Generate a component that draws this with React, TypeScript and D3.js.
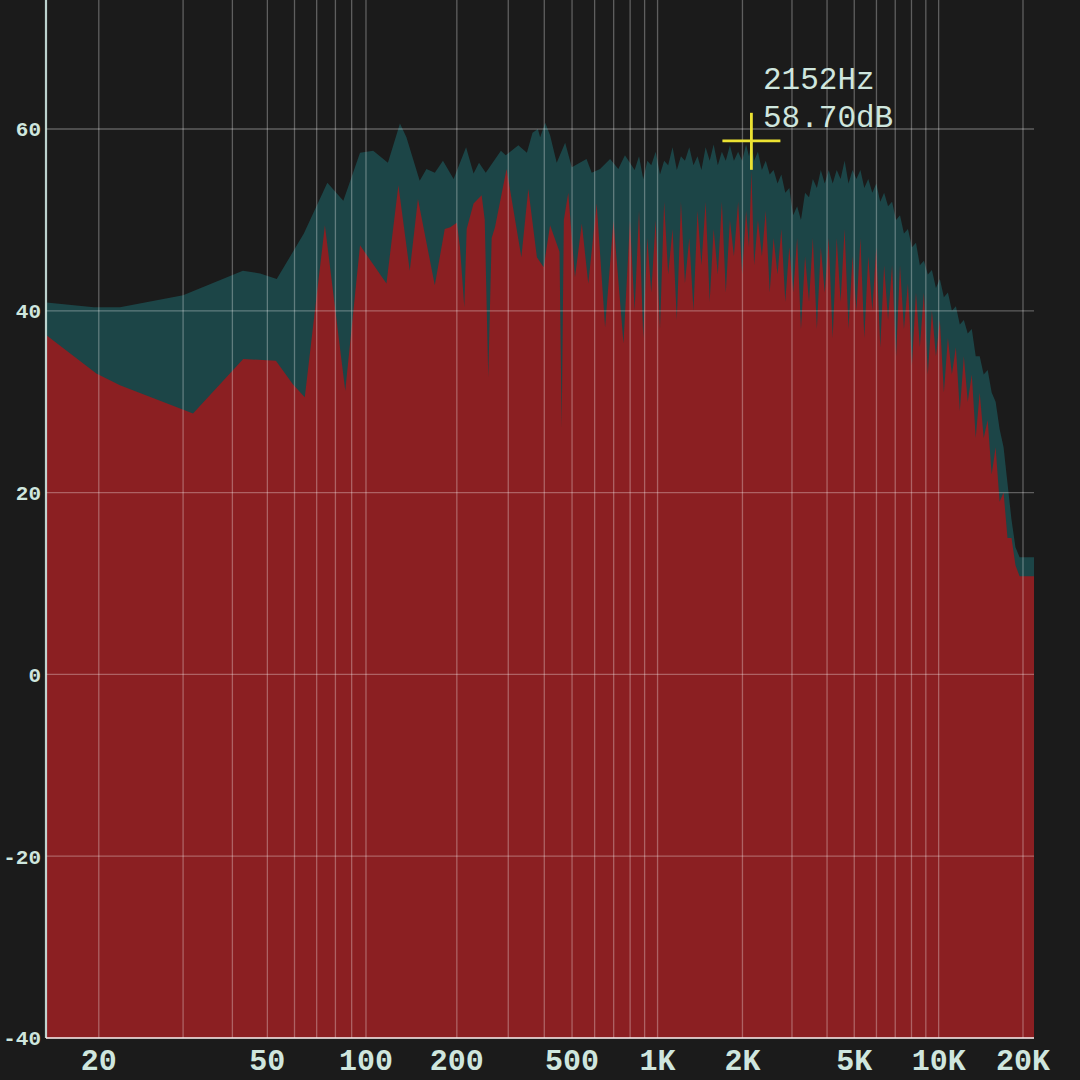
import React from "react";
import * as d3 from "d3";

// peak hold curve (teal) - frequency in Hz, level in dB
const peakHz = [
  16.5, 19.6, 21.9, 30, 42.7, 47.7, 53.2, 64, 75.5, 84.7, 95.7, 105.5, 117.8, 129, 135.5, 150, 158, 168.5, 179.5, 195,
  215, 228, 238, 251, 283, 294, 325, 348, 364, 380, 387, 403, 419, 442, 473, 499, 562, 586, 627, 680, 727, 767,
  830, 860, 890, 920, 950, 985, 1020, 1055, 1090, 1130, 1170, 1210, 1250, 1295, 1340, 1385, 1430, 1480, 1530, 1580,
  1635, 1690, 1745, 1805, 1865, 1930, 1995, 2060, 2110, 2152, 2200, 2270, 2345, 2420, 2500, 2580, 2665, 2750, 2840,
  2935, 3030, 3130, 3230, 3340, 3450, 3560, 3680, 3800, 3925, 4055, 4190, 4330, 4470, 4620, 4770, 4930, 5090, 5260,
  5430, 5610, 5800, 5990, 6190, 6390, 6600, 6820, 7050, 7280, 7520, 7770, 8030, 8300, 8570, 8860, 9150, 9460, 9780,
  10100, 10440, 10790, 11150, 11520, 11900, 12300, 12700, 13130, 13560, 14010, 14480, 14960, 15460, 15970, 16500,
  17050, 17610, 18200, 18800, 19450, 21900,
];
const peakDb = [
  40.9, 40.4, 40.4, 41.7, 44.4, 44.1, 43.5, 48.5, 54.1, 52.1, 57.4, 57.6, 56.3, 60.6, 59.1, 54.3, 55.6, 55.2, 56.5, 54.5,
  58.0, 55.1, 56.3, 55.2, 57.6, 57.1, 58.2, 57.4, 59.6, 60.0, 59.1, 60.7, 59.3, 56.3, 58.5, 55.8, 56.7, 55.2, 55.6, 56.7, 55.6, 57.1,
  55.5, 57, 54.5, 56.5, 56, 57.5, 55, 56.5, 56, 58, 55.5, 57, 56.5, 58, 56, 57, 55.5, 58, 56.5, 58.3,
  56, 57.5, 56.5, 58.2, 56.5, 57.5, 56.5, 58.3, 57, 58.7, 56.5, 57.5, 55.5, 56.5, 55, 55.5, 54, 55, 53,
  53.5, 50.5, 51.5, 50, 53, 52.5, 54.5, 53.5, 55.5, 54, 55.5, 54, 55.5, 54.5, 56.5, 54, 55.5, 54.5, 55.5,
  53.5, 54.5, 53, 54, 52, 53, 51.5, 52, 50, 50.5, 48.5, 49, 47, 47.5, 45, 45.5, 44, 44.5, 42.5,
  43.5, 41.5, 42, 40, 40.5, 38.5, 39, 37.5, 38, 35, 35, 33, 33.5, 31, 30, 27,
  25, 21, 17, 14, 12.9, 12.9,
];

// live spectrum (red)
const liveHz = [
  16.5, 19.8, 21.9, 31.7, 42.8, 52.9, 59.4, 64.4, 74.2, 85.9, 95.7, 116.5, 127.5, 139, 148, 168.5, 182, 190, 200,
  205, 212, 216, 228, 243, 249, 256, 263, 270, 296, 333, 352, 377, 398, 419, 452, 460, 468, 485, 512, 541, 570,
  610, 653, 699, 758, 799,
  830, 860, 890, 920, 950, 985, 1020, 1055, 1090, 1130, 1170, 1210, 1250, 1295, 1340, 1385, 1430, 1480, 1530, 1580,
  1635, 1690, 1745, 1805, 1865, 1930, 1995, 2060, 2110, 2152, 2200, 2270, 2345, 2420, 2500, 2580, 2665, 2750, 2840,
  2935, 3030, 3130, 3230, 3340, 3450, 3560, 3680, 3800, 3925, 4055, 4190, 4330, 4470, 4620, 4770, 4930, 5090, 5260,
  5430, 5610, 5800, 5990, 6190, 6390, 6600, 6820, 7050, 7280, 7520, 7770, 8030, 8300, 8570, 8860, 9150, 9460, 9780,
  10100, 10440, 10790, 11150, 11520, 11900, 12300, 12700, 13130, 13560, 14010, 14480, 14960, 15460, 15970, 16500,
  17050, 17610, 18200, 18800, 19450, 21900,
];
const liveDb = [
  37.3, 33.1, 31.8, 28.7, 34.7, 34.5, 31.9, 30.5, 49.4, 31.2, 47.2, 43.0, 53.8, 44.4, 52.3, 42.8, 49.0, 49.2, 49.7,
  47, 40.4, 49, 51.8, 52.7, 50, 32.7, 48, 49.2, 55.6, 45.9, 53.4, 45.9, 44.8, 49.4, 46.5, 27.2, 50, 53.0, 43.7, 49.6, 43.0,
  51.8, 38.2, 49.9, 36.4, 49.9,
  40, 51, 37, 48, 42, 50, 38, 52, 44, 49, 39, 52, 43, 48, 40, 51, 45, 52, 41, 49,
  44, 52, 42, 50, 46, 52, 44, 51, 47, 55.4, 45, 50, 46, 51, 42, 48, 44, 49, 41,
  47, 42, 48, 38, 46, 41, 48, 38, 47, 42, 48, 37, 48, 41, 49, 38, 46, 40, 48,
  37, 46, 40, 47, 36, 45, 39, 45, 35, 45, 38, 43, 34, 42, 36, 42, 33, 40, 35,
  39, 31, 37, 33, 36, 29, 35, 30, 33, 26, 31, 26, 28, 22, 25, 19,
  20, 15, 15, 12, 10.8, 10.8,
];

const gridHz = [
  20, 30, 40, 50, 60, 70, 80, 90, 100, 200, 300, 400, 500, 600, 700, 800, 900,
  1000, 2000, 3000, 4000, 5000, 6000, 7000, 8000, 9000, 10000, 20000,
];
const labelHz = [20, 50, 100, 200, 500, 1000, 2000, 5000, 10000, 20000];
const labelText = ["20", "50", "100", "200", "500", "1K", "2K", "5K", "10K", "20K"];
const dbTicks = [60, 40, 20, 0, -20, -40];

const cursorHz = 2152;
const cursorDb = 58.7;

const FREQ_OFFSET = 10; // the analyzer's axis is log(f - 10)

const W = 1080;
const H = 1080;
const plotLeft = 46;
const plotRight = 1034;
const plotTop = 0;

const BG = "#1b1b1b";
const RED = "#8b1f22";
const TEAL = "#1c4547";
const TEXT = "#cfe6de";
const MONO = "'Courier New', 'Liberation Mono', monospace";

export default function App() {
  const xLog = d3.scaleLog().domain([20 - FREQ_OFFSET, 20000 - FREQ_OFFSET]).range([98.8, 1023]);
  const x = (f: number) => xLog(f - FREQ_OFFSET);
  const y = d3.scaleLinear().domain([-40, 60]).range([1038, 129]);

  const area = d3
    .area<[number, number]>()
    .x((d) => x(d[0]))
    .y0(y(-40))
    .y1((d) => y(d[1]));

  const peak = peakHz.map((f, i) => [f, peakDb[i]] as [number, number]);
  const live = liveHz.map((f, i) => [f, liveDb[i]] as [number, number]);

  const cx = x(cursorHz);
  const cy = y(cursorDb);

  return (
    <svg width={W} height={H} style={{ position: "absolute", left: 0, top: 0, display: "block" }}>
      <rect x={0} y={0} width={W} height={H} fill={BG} />

      {/* spectrum fills */}
      <path d={area(peak) || ""} fill={TEAL} />
      <path d={area(live) || ""} fill={RED} />

      {/* grid on top */}
      <g stroke="#ffffff" strokeOpacity={0.3} strokeWidth={1.3}>
        {gridHz.map((f) => (
          <line key={f} x1={x(f)} x2={x(f)} y1={plotTop} y2={y(-40)} />
        ))}
        {dbTicks
          .filter((v) => v > -40)
          .map((v) => (
            <line key={v} x1={plotLeft} x2={plotRight} y1={y(v)} y2={y(v)} />
          ))}
      </g>

      {/* axis lines */}
      <line x1={plotLeft} x2={plotLeft} y1={plotTop} y2={y(-40)} stroke="#d8f2ec" strokeOpacity={0.85} strokeWidth={2.2} />
      <line x1={plotLeft} x2={plotRight} y1={y(-40)} y2={y(-40)} stroke="#f4e6e6" strokeOpacity={0.8} strokeWidth={2.2} />

      {/* y labels */}
      {dbTicks.map((v) => (
        <text
          key={v}
          x={41}
          y={y(v)}
          dy="0.35em"
          textAnchor="end"
          fontFamily={MONO}
          fontSize={21}
          fontWeight="bold"
          fill={TEXT}
        >
          {v}
        </text>
      ))}

      {/* x labels */}
      {labelHz.map((f, i) => (
        <text
          key={f}
          x={x(f)}
          y={1070}
          textAnchor="middle"
          fontFamily={MONO}
          fontSize={30}
          fontWeight="bold"
          fill={TEXT}
        >
          {labelText[i]}
        </text>
      ))}

      {/* cursor readout */}
      <g stroke="#ece232" strokeWidth={2.8}>
        <line x1={cx - 29} x2={cx + 29} y1={cy} y2={cy} />
        <line x1={cx} x2={cx} y1={cy - 28} y2={cy + 29} />
      </g>
      <text x={763} y={89} fontFamily={MONO} fontSize={31} fill={TEXT}>
        {cursorHz}Hz
      </text>
      <text x={763} y={127} fontFamily={MONO} fontSize={31} fill={TEXT}>
        {cursorDb.toFixed(2)}dB
      </text>
    </svg>
  );
}
